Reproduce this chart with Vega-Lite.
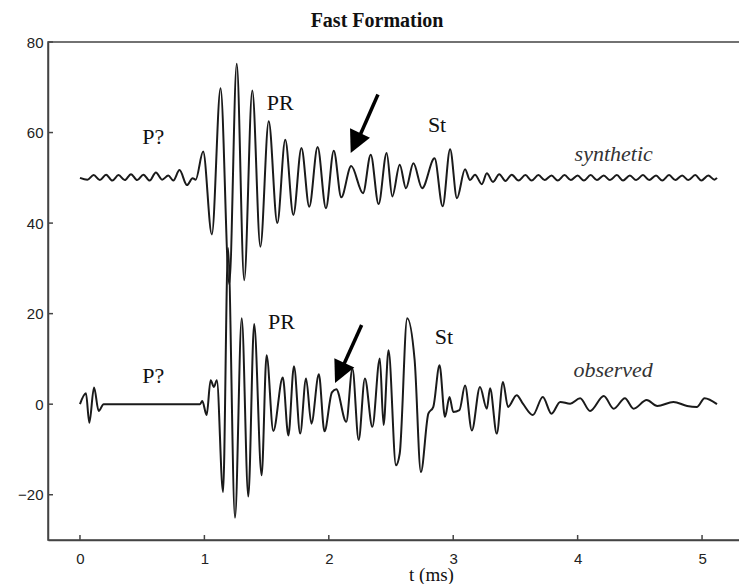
{
  "$schema": "https://vega.github.io/schema/vega-lite/v6.json",
  "autosize": {"type": "none"},
  "padding": {"left": 48, "top": 42, "right": 0, "bottom": 44},
  "width": 692,
  "height": 498,
  "background": "white",
  "config": {
    "view": {"stroke": "#444", "strokeWidth": 1.5},
    "axis": {"grid": false, "ticks": false, "domainColor": "#444", "domainWidth": 1.5, "labelFont": "Liberation Sans", "labelFontSize": 15, "labelColor": "#222"}
  },
  "title": {"text": "Fast Formation", "font": "Liberation Serif", "fontSize": 20, "fontWeight": "bold", "color": "#111", "anchor": "middle", "frame": "group", "dx": -17, "dy": 26, "offset": 14, "baseline": "alphabetic"},
  "datasets": {
    "waves": [
      {"series": "synthetic", "t": 0, "v": 50}, {"series": "synthetic", "t": 0.06, "v": 49.6}, {"series": "synthetic", "t": 0.11, "v": 50.6}, {"series": "synthetic", "t": 0.16, "v": 49.5}, {"series": "synthetic", "t": 0.21, "v": 50.7}, {"series": "synthetic", "t": 0.26, "v": 49.4}, {"series": "synthetic", "t": 0.31, "v": 50.6}, {"series": "synthetic", "t": 0.36, "v": 49.5}, {"series": "synthetic", "t": 0.41, "v": 50.8}, {"series": "synthetic", "t": 0.46, "v": 49.5}, {"series": "synthetic", "t": 0.51, "v": 50.7}, {"series": "synthetic", "t": 0.56, "v": 49.4}, {"series": "synthetic", "t": 0.61, "v": 51.2}, {"series": "synthetic", "t": 0.66, "v": 49.6}, {"series": "synthetic", "t": 0.71, "v": 50.5}, {"series": "synthetic", "t": 0.75, "v": 49.4}, {"series": "synthetic", "t": 0.8, "v": 51.7}, {"series": "synthetic", "t": 0.86, "v": 48.4}, {"series": "synthetic", "t": 0.905, "v": 49.9}, {"series": "synthetic", "t": 0.93, "v": 49.6}, {"series": "synthetic", "t": 0.99, "v": 55.8}, {"series": "synthetic", "t": 1.06, "v": 37.5}, {"series": "synthetic", "t": 1.13, "v": 69.8}, {"series": "synthetic", "t": 1.2, "v": 26.5}, {"series": "synthetic", "t": 1.26, "v": 75.2}, {"series": "synthetic", "t": 1.32, "v": 27.4}, {"series": "synthetic", "t": 1.385, "v": 69.3}, {"series": "synthetic", "t": 1.45, "v": 34.8}, {"series": "synthetic", "t": 1.517, "v": 62.5}, {"series": "synthetic", "t": 1.586, "v": 40}, {"series": "synthetic", "t": 1.65, "v": 58.4}, {"series": "synthetic", "t": 1.715, "v": 41.8}, {"series": "synthetic", "t": 1.78, "v": 56.6}, {"series": "synthetic", "t": 1.843, "v": 43.6}, {"series": "synthetic", "t": 1.91, "v": 56.8}, {"series": "synthetic", "t": 1.977, "v": 43.3}, {"series": "synthetic", "t": 2.04, "v": 56}, {"series": "synthetic", "t": 2.1, "v": 45.7}, {"series": "synthetic", "t": 2.18, "v": 52.6}, {"series": "synthetic", "t": 2.275, "v": 46.6}, {"series": "synthetic", "t": 2.337, "v": 55.1}, {"series": "synthetic", "t": 2.4, "v": 44.2}, {"series": "synthetic", "t": 2.465, "v": 55.5}, {"series": "synthetic", "t": 2.51, "v": 45.9}, {"series": "synthetic", "t": 2.57, "v": 52.9}, {"series": "synthetic", "t": 2.62, "v": 47.7}, {"series": "synthetic", "t": 2.68, "v": 53.2}, {"series": "synthetic", "t": 2.75, "v": 47.7}, {"series": "synthetic", "t": 2.85, "v": 54.3}, {"series": "synthetic", "t": 2.915, "v": 43.7}, {"series": "synthetic", "t": 2.975, "v": 56.3}, {"series": "synthetic", "t": 3.03, "v": 45.5}, {"series": "synthetic", "t": 3.095, "v": 51.9}, {"series": "synthetic", "t": 3.135, "v": 49.5}, {"series": "synthetic", "t": 3.175, "v": 50.7}, {"series": "synthetic", "t": 3.23, "v": 48.6}, {"series": "synthetic", "t": 3.27, "v": 51.0}, {"series": "synthetic", "t": 3.32, "v": 49.1}, {"series": "synthetic", "t": 3.37, "v": 50.8}, {"series": "synthetic", "t": 3.42, "v": 49.3}, {"series": "synthetic", "t": 3.47, "v": 50.7}, {"series": "synthetic", "t": 3.525, "v": 49.4}, {"series": "synthetic", "t": 3.58, "v": 50.6}, {"series": "synthetic", "t": 3.63, "v": 49.4}, {"series": "synthetic", "t": 3.685, "v": 50.6}, {"series": "synthetic", "t": 3.735, "v": 49.5}, {"series": "synthetic", "t": 3.79, "v": 50.5}, {"series": "synthetic", "t": 3.84, "v": 49.4}, {"series": "synthetic", "t": 3.895, "v": 50.6}, {"series": "synthetic", "t": 3.945, "v": 49.5}, {"series": "synthetic", "t": 4.0, "v": 50.5}, {"series": "synthetic", "t": 4.05, "v": 49.4}, {"series": "synthetic", "t": 4.105, "v": 50.6}, {"series": "synthetic", "t": 4.155, "v": 49.5}, {"series": "synthetic", "t": 4.21, "v": 50.5}, {"series": "synthetic", "t": 4.26, "v": 49.5}, {"series": "synthetic", "t": 4.315, "v": 50.6}, {"series": "synthetic", "t": 4.365, "v": 49.4}, {"series": "synthetic", "t": 4.42, "v": 50.5}, {"series": "synthetic", "t": 4.47, "v": 49.5}, {"series": "synthetic", "t": 4.525, "v": 50.6}, {"series": "synthetic", "t": 4.575, "v": 49.5}, {"series": "synthetic", "t": 4.63, "v": 50.5}, {"series": "synthetic", "t": 4.68, "v": 49.4}, {"series": "synthetic", "t": 4.735, "v": 50.6}, {"series": "synthetic", "t": 4.785, "v": 49.5}, {"series": "synthetic", "t": 4.84, "v": 50.5}, {"series": "synthetic", "t": 4.89, "v": 49.5}, {"series": "synthetic", "t": 4.945, "v": 50.6}, {"series": "synthetic", "t": 4.995, "v": 49.4}, {"series": "synthetic", "t": 5.05, "v": 50.5}, {"series": "synthetic", "t": 5.1, "v": 49.6}, {"series": "synthetic", "t": 5.12, "v": 50},
      {"series": "observed", "t": 0, "v": 0}, {"series": "observed", "t": 0.048, "v": 2.4}, {"series": "observed", "t": 0.075, "v": -4.1}, {"series": "observed", "t": 0.113, "v": 3.7}, {"series": "observed", "t": 0.15, "v": -1.5}, {"series": "observed", "t": 0.19, "v": 0}, {"series": "observed", "t": 0.5, "v": 0}, {"series": "observed", "t": 0.965, "v": 0}, {"series": "observed", "t": 0.983, "v": 0.7}, {"series": "observed", "t": 1.018, "v": -2.4}, {"series": "observed", "t": 1.05, "v": 5.3}, {"series": "observed", "t": 1.077, "v": 3.8}, {"series": "observed", "t": 1.1, "v": 5.3}, {"series": "observed", "t": 1.15, "v": -19.4}, {"series": "observed", "t": 1.19, "v": 34.5}, {"series": "observed", "t": 1.246, "v": -25.1}, {"series": "observed", "t": 1.3, "v": 19}, {"series": "observed", "t": 1.353, "v": -20.4}, {"series": "observed", "t": 1.4, "v": 17.7}, {"series": "observed", "t": 1.46, "v": -15.7}, {"series": "observed", "t": 1.5, "v": 10.8}, {"series": "observed", "t": 1.554, "v": -5.9}, {"series": "observed", "t": 1.63, "v": 5.9}, {"series": "observed", "t": 1.675, "v": -6.9}, {"series": "observed", "t": 1.72, "v": 8.4}, {"series": "observed", "t": 1.77, "v": -6.5}, {"series": "observed", "t": 1.817, "v": 5.7}, {"series": "observed", "t": 1.86, "v": -4.3}, {"series": "observed", "t": 1.92, "v": 6.6}, {"series": "observed", "t": 1.965, "v": -6}, {"series": "observed", "t": 2.025, "v": 2.6}, {"series": "observed", "t": 2.06, "v": 3.3}, {"series": "observed", "t": 2.14, "v": -3.9}, {"series": "observed", "t": 2.19, "v": 7.8}, {"series": "observed", "t": 2.24, "v": -7.9}, {"series": "observed", "t": 2.29, "v": 5.7}, {"series": "observed", "t": 2.35, "v": -5}, {"series": "observed", "t": 2.41, "v": 10.1}, {"series": "observed", "t": 2.44, "v": -4.6}, {"series": "observed", "t": 2.48, "v": 11.9}, {"series": "observed", "t": 2.54, "v": -13.5}, {"series": "observed", "t": 2.57, "v": -10.9}, {"series": "observed", "t": 2.63, "v": 19}, {"series": "observed", "t": 2.69, "v": 9.7}, {"series": "observed", "t": 2.74, "v": -15}, {"series": "observed", "t": 2.8, "v": -2.1}, {"series": "observed", "t": 2.84, "v": -0.6}, {"series": "observed", "t": 2.89, "v": 8.6}, {"series": "observed", "t": 2.934, "v": -2.8}, {"series": "observed", "t": 2.97, "v": 1.6}, {"series": "observed", "t": 3.0, "v": -1.7}, {"series": "observed", "t": 3.05, "v": -1.3}, {"series": "observed", "t": 3.095, "v": 4.1}, {"series": "observed", "t": 3.15, "v": -5.8}, {"series": "observed", "t": 3.215, "v": 3.8}, {"series": "observed", "t": 3.27, "v": -1}, {"series": "observed", "t": 3.296, "v": 3.5}, {"series": "observed", "t": 3.35, "v": -6.5}, {"series": "observed", "t": 3.4, "v": 4.9}, {"series": "observed", "t": 3.44, "v": -0.6}, {"series": "observed", "t": 3.51, "v": 2}, {"series": "observed", "t": 3.56, "v": 0.1}, {"series": "observed", "t": 3.64, "v": -2.4}, {"series": "observed", "t": 3.72, "v": 1.6}, {"series": "observed", "t": 3.79, "v": -2.1}, {"series": "observed", "t": 3.86, "v": 0.5}, {"series": "observed", "t": 3.94, "v": 0.1}, {"series": "observed", "t": 4.02, "v": 1.3}, {"series": "observed", "t": 4.1, "v": -1.5}, {"series": "observed", "t": 4.21, "v": 1.8}, {"series": "observed", "t": 4.29, "v": -1}, {"series": "observed", "t": 4.38, "v": 1.3}, {"series": "observed", "t": 4.45, "v": -1}, {"series": "observed", "t": 4.555, "v": 0.9}, {"series": "observed", "t": 4.64, "v": -0.4}, {"series": "observed", "t": 4.77, "v": 0.5}, {"series": "observed", "t": 4.88, "v": -0.4}, {"series": "observed", "t": 4.96, "v": -0.6}, {"series": "observed", "t": 5.02, "v": 1.3}, {"series": "observed", "t": 5.12, "v": 0}
    ],
    "arrows": [
      {"t": 2.395, "v": 68.4, "t2": 2.251, "v2": 59.4, "tipT": 2.176, "tipV": 55.5},
      {"t": 2.264, "v": 17.5, "t2": 2.124, "v2": 9.0, "tipT": 2.05, "tipV": 4.7}
    ],
    "xticks": [{"t": 0}, {"t": 1}, {"t": 2}, {"t": 3}, {"t": 4}, {"t": 5}],
    "yticks": [{"v": -20}, {"v": 0}, {"v": 20}, {"v": 40}, {"v": 60}, {"v": 80}],
    "labels": [
      {"label": "P?", "t": 0.589, "v": 57.5, "style": "normal"},
      {"label": "PR", "t": 1.61, "v": 65.0, "style": "normal"},
      {"label": "St", "t": 2.87, "v": 60.2, "style": "normal"},
      {"label": "P?", "t": 0.589, "v": 4.7, "style": "normal"},
      {"label": "PR", "t": 1.62, "v": 16.7, "style": "normal"},
      {"label": "St", "t": 2.925, "v": 13.4, "style": "normal"},
      {"label": "synthetic", "t": 4.29, "v": 53.8, "style": "italic"},
      {"label": "observed", "t": 4.285, "v": 5.9, "style": "italic"}
    ]
  },
  "layer": [
    {
      "data": {"name": "waves"},
      "mark": {"type": "line", "interpolate": "monotone", "stroke": "#1a1a1a", "strokeWidth": 2},
      "encoding": {
        "x": {"field": "t", "type": "quantitative", "scale": {"domain": [-0.257, 5.305], "nice": false, "zero": false},
              "axis": {"values": [0, 1, 2, 3, 4, 5], "format": "d", "labelPadding": 11, "title": "t (ms)", "titleFont": "Liberation Serif", "titleFontSize": 19, "titleFontWeight": "normal", "titleColor": "#111", "titleX": 383, "titleY": 40, "titleAlign": "center", "titleBaseline": "alphabetic"}},
        "y": {"field": "v", "type": "quantitative", "scale": {"domain": [-30, 80], "nice": false, "zero": false},
              "axis": {"values": [-20, 0, 20, 40, 60, 80], "format": "d", "labelPadding": 5, "title": null}},
        "detail": {"field": "series"}
      }
    },
    {
      "data": {"name": "xticks"},
      "mark": {"type": "rule", "stroke": "#444", "strokeWidth": 1.5},
      "encoding": {
        "x": {"field": "t", "type": "quantitative"},
        "y": {"datum": -30},
        "y2": {"datum": -28.9}
      }
    },
    {
      "data": {"name": "yticks"},
      "mark": {"type": "rule", "stroke": "#444", "strokeWidth": 1.5},
      "encoding": {
        "y": {"field": "v", "type": "quantitative"},
        "x": {"datum": -0.257},
        "x2": {"datum": -0.217}
      }
    },
    {
      "data": {"name": "arrows"},
      "mark": {"type": "rule", "stroke": "#000", "strokeWidth": 3.5},
      "encoding": {
        "x": {"field": "t", "type": "quantitative"},
        "y": {"field": "v", "type": "quantitative"},
        "x2": {"field": "t2"},
        "y2": {"field": "v2"}
      }
    },
    {
      "data": {"name": "arrows"},
      "mark": {"type": "point", "shape": "M0,0L-0.5,-1L0.5,-1Z", "filled": true, "fill": "#000", "stroke": null, "opacity": 1, "size": 1936, "angle": 25},
      "encoding": {
        "x": {"field": "tipT", "type": "quantitative"},
        "y": {"field": "tipV", "type": "quantitative"}
      }
    },
    {
      "data": {"name": "labels"},
      "transform": [{"filter": "datum.style == 'normal'"}],
      "mark": {"type": "text", "font": "Liberation Serif", "fontSize": 22, "align": "center", "baseline": "alphabetic", "color": "#111"},
      "encoding": {
        "x": {"field": "t", "type": "quantitative"},
        "y": {"field": "v", "type": "quantitative"},
        "text": {"field": "label"}
      }
    },
    {
      "data": {"name": "labels"},
      "transform": [{"filter": "datum.style == 'italic'"}],
      "mark": {"type": "text", "font": "Liberation Serif", "fontSize": 22, "fontStyle": "italic", "align": "center", "baseline": "alphabetic", "color": "#333"},
      "encoding": {
        "x": {"field": "t", "type": "quantitative"},
        "y": {"field": "v", "type": "quantitative"},
        "text": {"field": "label"}
      }
    }
  ]
}
